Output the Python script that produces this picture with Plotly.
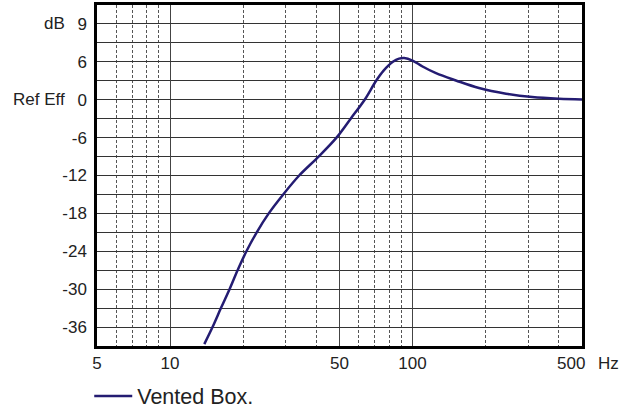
import plotly.graph_objects as go

# Frequency response data
freq_hz = [13.85, 14.98, 16.22, 17.6, 19.0, 20.66, 22.79, 25.54, 29.3, 34.1, 41.0, 48.6,
           55.6, 63.5, 70.8, 76.0, 83.0, 88.0, 92.4, 100.0, 110.0, 125.0, 151.0,
           188.0, 243.0, 312.0, 402.0, 500.0]
level_db = [-38.7, -36.0, -33.0, -30.0, -27.0, -24.0, -21.0, -18.0, -15.0, -12.0, -9.0, -6.0,
            -3.0, 0.0, 3.0, 4.6, 6.0, 6.5, 6.6, 6.2, 5.26, 4.2, 3.05,
            1.85, 0.95, 0.42, 0.16, 0.05]
series_name = "Vented Box."

x_tickvals = [5, 10, 50, 100]
x_ticktext = ["5", "10", "50", "100"]
x_end_label = "500"
x_unit = "Hz"
x_minor = [6, 7, 8, 9, 20, 30, 40, 60, 70, 80, 90, 200, 300, 400]

y_tickvals = [12, 6, 0, -6, -12, -18, -24, -30, -36]
y_ticktext = ["9", "6", "0", "-6", "-12", "-18", "-24", "-30", "-36"]
y_minor = [9, 3, -3, -9, -15, -21, -27, -33]
y_unit = "dB"
y_ref_label = "Ref Eff"

FONT = "Liberation Sans, Arial, sans-serif"
LINE_COLOR = "#241c72"
TXT = "#222"

fig = go.Figure()
fig.add_trace(go.Scatter(
    x=freq_hz, y=level_db, mode="lines", name=series_name,
    line=dict(color=LINE_COLOR, width=2.5, shape="spline", smoothing=1.0),
    showlegend=True,
))

fig.update_layout(
    width=633, height=408,
    margin=dict(l=97, r=51, t=5, b=62, autoexpand=False),
    paper_bgcolor="white", plot_bgcolor="white",
    font=dict(family=FONT, size=17, color=TXT),
    showlegend=True,
    legend=dict(x=-0.016, y=-0.147, xanchor="left", yanchor="middle",
                font=dict(size=21.5, color=TXT), itemwidth=38,
                bgcolor="rgba(0,0,0,0)"),
    xaxis=dict(
        type="log", range=[0.69897, 2.69897],
        tickvals=x_tickvals, ticktext=x_ticktext,
        showgrid=True, gridcolor="#444", gridwidth=1,
        ticks="",
        showline=True, linecolor="black", linewidth=2.5, mirror=True,
        zeroline=False,
        minor=dict(tickvals=x_minor, showgrid=True, gridcolor="#555",
                   gridwidth=1, griddash="3px,2px", ticks=""),
    ),
    yaxis=dict(
        range=[-39, 15],
        tickvals=y_tickvals, ticktext=y_ticktext,
        showgrid=True, gridcolor="#333", gridwidth=1,
        ticks="outside", ticklen=4, tickcolor="rgba(0,0,0,0)",
        showline=True, linecolor="black", linewidth=2.5, mirror=True,
        zeroline=False,
        minor=dict(tickvals=y_minor, showgrid=True, gridcolor="#333",
                   gridwidth=1, ticks=""),
    ),
    annotations=[
        dict(text=y_unit, xref="paper", yref="y", x=-0.087, y=12,
             xanchor="center", yanchor="middle", showarrow=False,
             font=dict(size=17, color=TXT)),
        dict(text=y_ref_label, xref="paper", yref="y", x=-0.12, y=0,
             xanchor="center", yanchor="middle", showarrow=False,
             font=dict(size=17, color=TXT)),
        dict(text=x_end_label, xref="paper", yref="paper", x=0.9773, y=-0.05,
             xanchor="center", yanchor="middle", showarrow=False,
             font=dict(size=17, color=TXT)),
        dict(text=x_unit, xref="paper", yref="paper", x=1.0545, y=-0.05,
             xanchor="center", yanchor="middle", showarrow=False,
             font=dict(size=17, color=TXT)),
    ],
)

fig.write_html("out.html", config={"displayModeBar": False},
               post_script="document.body.style.margin='0px';")
